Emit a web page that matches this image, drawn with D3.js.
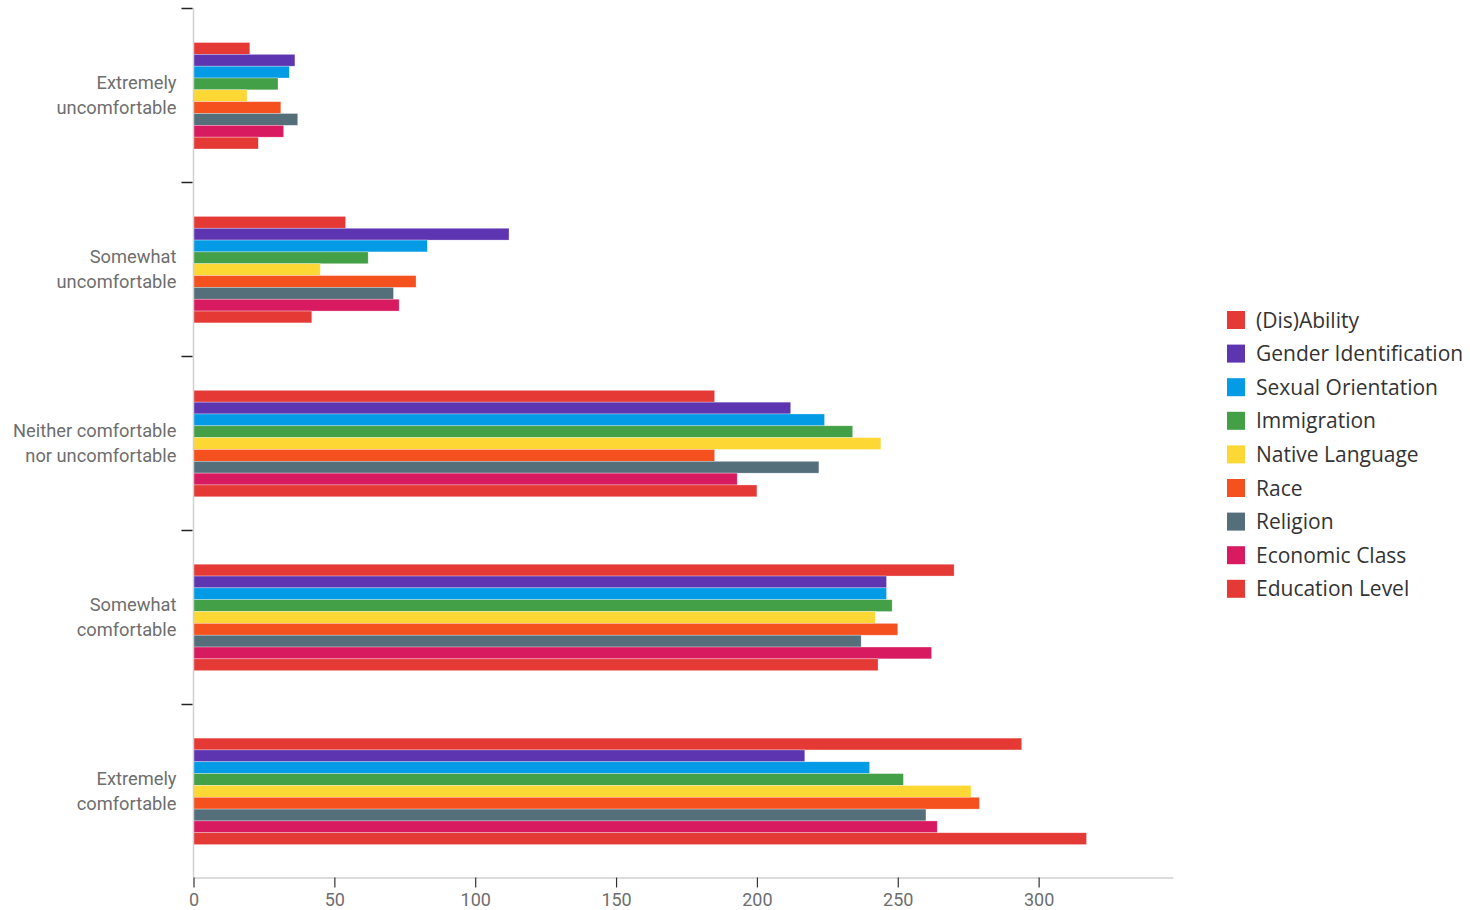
<!DOCTYPE html>
<html>
<head>
<meta charset="utf-8">
<script src="https://cdn.jsdelivr.net/npm/d3@7"></script>
<style>
  body { margin: 0; background: #fff; }
  .ylab { font-family: Roboto, "Liberation Sans", sans-serif; font-size: 18.3px; fill: #6e6e6e; }
  .xlab { font-family: Roboto, "Liberation Sans", sans-serif; font-size: 18px; fill: #6e6e6e; }
  .leg { font-family: "Open Sans", sans-serif; font-size: 21px; fill: #333; }
</style>
</head>
<body>
<svg id="chart" width="1470" height="910"></svg>
<script>
// answer categories, top to bottom
const categories = [
  'Extremely uncomfortable',
  'Somewhat uncomfortable',
  'Neither comfortable nor uncomfortable',
  'Somewhat comfortable',
  'Extremely comfortable'
];
const categoryLines = [
  ['Extremely', 'uncomfortable'],
  ['Somewhat', 'uncomfortable'],
  ['Neither comfortable', 'nor uncomfortable'],
  ['Somewhat', 'comfortable'],
  ['Extremely', 'comfortable']
];

const series = ['(Dis)Ability', 'Gender Identification', 'Sexual Orientation', 'Immigration',
  'Native Language', 'Race', 'Religion', 'Economic Class', 'Education Level'];
const colors = ['#e53935', '#5e35b1', '#039be5', '#43a047', '#fdd835', '#f4511e', '#546e7a', '#d81b60', '#e53935'];

// one array per series, in category order
const disability   = [20, 54, 185, 270, 294];
const gender       = [36, 112, 212, 246, 217];
const sexual       = [34, 83, 224, 246, 240];
const immigration  = [30, 62, 234, 248, 252];
const nativeLang   = [19, 45, 244, 242, 276];
const race         = [31, 79, 185, 250, 279];
const religion     = [37, 71, 222, 237, 260];
const economic     = [32, 73, 193, 262, 264];
const education    = [23, 42, 200, 243, 317];
const values = [disability, gender, sexual, immigration, nativeLang, race, religion, economic, education];

const xTicks = [0, 50, 100, 150, 200, 250, 300];

const svg = d3.select('#chart');
const plotLeft = 193.5, plotRight = 1173, plotTop = 8, plotBottom = 877.5;

const x = d3.scaleLinear().domain([0, 347.7]).range([plotLeft, plotRight]);
const y = d3.scaleBand().domain(categories).range([plotTop, plotBottom]).padding(0);
const yInner = d3.scaleBand().domain(series).range([0, y.bandwidth()]).paddingInner(0).paddingOuter(2.85);

// bars
const groups = svg.append('g').selectAll('g')
  .data(categories)
  .join('g')
  .attr('transform', d => `translate(0,${y(d) + 0.8})`);

groups.selectAll('rect')
  .data((c, ci) => series.map((s, si) => ({ s, si, v: values[si][ci] })))
  .join('rect')
  .attr('x', x(0))
  .attr('y', d => yInner(d.s))
  .attr('width', d => x(d.v) - x(0))
  .attr('height', yInner.bandwidth())
  .attr('fill', d => colors[d.si])
  .attr('stroke', '#fff')
  .attr('stroke-opacity', 0.5)
  .attr('stroke-width', 0.6);

// y axis line + boundary ticks
svg.append('line')
  .attr('x1', plotLeft).attr('x2', plotLeft)
  .attr('y1', plotTop).attr('y2', plotBottom)
  .attr('stroke', '#d0d0d0').attr('stroke-width', 1.5);

svg.append('g').selectAll('line')
  .data(categories)
  .join('line')
  .attr('x1', plotLeft - 12).attr('x2', plotLeft - 1)
  .attr('y1', d => Math.round(y(d)) + 0.5).attr('y2', d => Math.round(y(d)) + 0.5)
  .attr('stroke', '#222').attr('stroke-width', 1.5);

// y labels
const ylabs = svg.append('g').selectAll('text')
  .data(categories)
  .join('text')
  .attr('class', 'ylab')
  .attr('text-anchor', 'end')
  .attr('x', plotLeft - 17)
  .attr('y', d => y(d) + y.bandwidth() / 2);
ylabs.selectAll('tspan')
  .data((d, i) => categoryLines[i].map((t, j) => ({ t, j })))
  .join('tspan')
  .attr('x', plotLeft - 17)
  .attr('dy', d => d.j === 0 ? '-0.3em' : '1.35em')
  .text(d => d.t);

// x axis
const xAxis = svg.append('g')
  .attr('transform', `translate(0,${plotBottom})`)
  .call(d3.axisBottom(x).tickValues(xTicks).tickSize(10).tickSizeOuter(0));
xAxis.attr('font-family', null).attr('font-size', null);
xAxis.select('.domain').attr('stroke', '#d0d0d0').attr('stroke-width', 1.5);
xAxis.selectAll('.tick line').attr('stroke', '#333').attr('stroke-width', 1.2);
xAxis.selectAll('.tick text').attr('class', 'xlab').attr('fill', null).attr('y', 16).attr('dy', '0.71em');

// legend
const legend = svg.append('g').attr('transform', 'translate(1227,311)');
const legRow = legend.selectAll('g')
  .data(series)
  .join('g')
  .attr('transform', (d, i) => `translate(0,${i * 33.6})`);
legRow.append('rect')
  .attr('width', 18).attr('height', 18)
  .attr('fill', (d, i) => colors[i]);
legRow.append('text')
  .attr('class', 'leg')
  .attr('x', 29).attr('y', 9).attr('dy', '0.36em')
  .text(d => d);
</script>
</body>
</html>
